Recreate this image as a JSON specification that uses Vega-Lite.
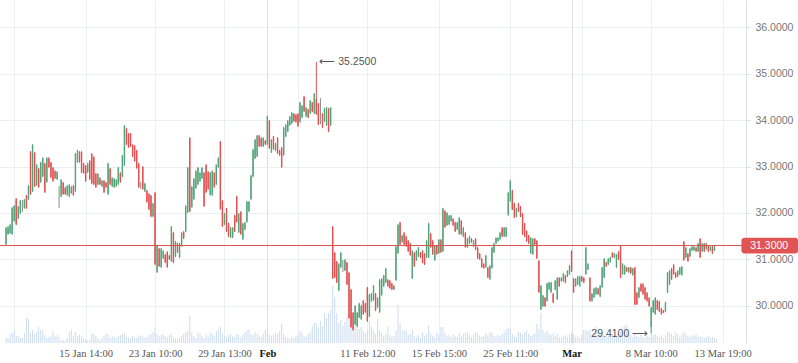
{
"$schema":"https://vega.github.io/schema/vega-lite/v6.json",
"width":746,"height":343,
"autosize":{"type":"none"},
"padding":{"left":0,"top":0,"right":52,"bottom":20},
"background":"white",
"config":{"view":{"stroke":null},"font":"Liberation Sans"},
"datasets":{"candles":[
{"i":0,"o":31.33,"h":31.70,"l":31.31,"c":31.68,"v":50},
{"i":1,"o":31.55,"h":31.72,"l":31.53,"c":31.70,"v":50},
{"i":2,"o":31.57,"h":31.76,"l":31.55,"c":31.74,"v":90},
{"i":3,"o":31.55,"h":32.13,"l":31.53,"c":32.11,"v":100},
{"i":4,"o":31.83,"h":32.17,"l":31.81,"c":32.15,"v":120},
{"i":5,"o":32.30,"h":32.32,"l":31.74,"c":31.76,"v":70},
{"i":6,"o":31.89,"h":32.15,"l":31.87,"c":32.13,"v":70},
{"i":7,"o":32.00,"h":32.28,"l":31.98,"c":32.26,"v":50},
{"i":8,"o":32.15,"h":32.28,"l":32.02,"c":32.15,"v":50},
{"i":9,"o":32.11,"h":32.30,"l":32.09,"c":32.28,"v":100},
{"i":10,"o":32.37,"h":32.39,"l":32.09,"c":32.11,"v":250},
{"i":11,"o":32.30,"h":32.60,"l":32.28,"c":32.58,"v":240},
{"i":12,"o":33.31,"h":33.33,"l":32.39,"c":32.41,"v":100},
{"i":13,"o":32.47,"h":33.48,"l":32.45,"c":33.46,"v":130},
{"i":14,"o":33.29,"h":33.31,"l":32.56,"c":32.58,"v":90},
{"i":15,"o":32.60,"h":33.05,"l":32.58,"c":33.03,"v":110},
{"i":16,"o":32.95,"h":32.97,"l":32.54,"c":32.56,"v":160},
{"i":17,"o":32.67,"h":33.10,"l":32.65,"c":33.08,"v":130},
{"i":18,"o":32.79,"h":33.20,"l":32.77,"c":33.18,"v":130},
{"i":19,"o":33.06,"h":33.08,"l":32.43,"c":32.45,"v":80},
{"i":20,"o":32.67,"h":33.20,"l":32.65,"c":33.18,"v":50},
{"i":21,"o":33.18,"h":33.20,"l":32.97,"c":32.99,"v":60},
{"i":22,"o":33.08,"h":33.10,"l":32.75,"c":32.77,"v":70},
{"i":23,"o":32.97,"h":32.99,"l":32.67,"c":32.69,"v":120},
{"i":24,"o":32.90,"h":32.92,"l":32.73,"c":32.75,"v":70},
{"i":25,"o":32.73,"h":32.90,"l":32.71,"c":32.88,"v":80},
{"i":26,"o":32.35,"h":32.58,"l":32.11,"c":32.35,"v":60},
{"i":27,"o":32.36,"h":32.73,"l":32.34,"c":32.71,"v":30},
{"i":28,"o":32.65,"h":32.67,"l":32.39,"c":32.41,"v":30},
{"i":29,"o":32.54,"h":32.56,"l":32.39,"c":32.41,"v":25},
{"i":30,"o":32.39,"h":32.60,"l":32.37,"c":32.58,"v":50},
{"i":31,"o":32.36,"h":32.62,"l":32.34,"c":32.60,"v":110},
{"i":32,"o":32.43,"h":32.58,"l":32.41,"c":32.56,"v":130},
{"i":33,"o":32.58,"h":32.60,"l":32.37,"c":32.39,"v":70},
{"i":34,"o":32.47,"h":33.29,"l":32.45,"c":33.27,"v":110},
{"i":35,"o":33.10,"h":33.36,"l":33.08,"c":33.34,"v":70},
{"i":36,"o":33.31,"h":33.33,"l":33.08,"c":33.10,"v":80},
{"i":37,"o":33.31,"h":33.33,"l":32.86,"c":32.88,"v":70},
{"i":38,"o":33.06,"h":33.08,"l":32.84,"c":32.86,"v":50},
{"i":39,"o":33.01,"h":33.03,"l":32.67,"c":32.69,"v":30},
{"i":40,"o":32.88,"h":33.08,"l":32.86,"c":33.06,"v":25},
{"i":41,"o":33.12,"h":33.14,"l":32.71,"c":32.73,"v":30},
{"i":42,"o":33.27,"h":33.29,"l":32.62,"c":32.64,"v":90},
{"i":43,"o":33.20,"h":33.22,"l":32.60,"c":32.62,"v":90},
{"i":44,"o":32.84,"h":32.86,"l":32.54,"c":32.56,"v":70},
{"i":45,"o":32.62,"h":32.86,"l":32.60,"c":32.84,"v":50},
{"i":46,"o":32.75,"h":32.77,"l":32.60,"c":32.62,"v":30},
{"i":47,"o":32.58,"h":32.71,"l":32.56,"c":32.69,"v":50},
{"i":48,"o":32.69,"h":32.71,"l":32.43,"c":32.45,"v":70},
{"i":49,"o":32.65,"h":32.67,"l":32.54,"c":32.56,"v":90},
{"i":50,"o":32.41,"h":33.08,"l":32.39,"c":33.06,"v":90},
{"i":51,"o":32.95,"h":32.97,"l":32.60,"c":32.62,"v":50},
{"i":52,"o":32.58,"h":32.77,"l":32.56,"c":32.75,"v":70},
{"i":53,"o":32.56,"h":32.75,"l":32.54,"c":32.73,"v":60},
{"i":54,"o":32.58,"h":32.73,"l":32.56,"c":32.71,"v":50},
{"i":55,"o":32.62,"h":32.99,"l":32.60,"c":32.97,"v":70},
{"i":56,"o":32.86,"h":32.88,"l":32.65,"c":32.67,"v":80},
{"i":57,"o":32.79,"h":33.25,"l":32.77,"c":33.23,"v":90},
{"i":58,"o":33.03,"h":33.89,"l":33.01,"c":33.87,"v":100},
{"i":59,"o":33.81,"h":33.83,"l":33.46,"c":33.48,"v":60},
{"i":60,"o":33.70,"h":33.72,"l":33.40,"c":33.42,"v":50},
{"i":61,"o":33.70,"h":33.72,"l":33.42,"c":33.44,"v":40},
{"i":62,"o":33.46,"h":33.48,"l":33.20,"c":33.22,"v":70},
{"i":63,"o":33.44,"h":33.46,"l":33.10,"c":33.12,"v":60},
{"i":64,"o":33.34,"h":33.36,"l":32.95,"c":32.97,"v":50},
{"i":65,"o":33.06,"h":33.08,"l":32.54,"c":32.56,"v":80},
{"i":66,"o":32.60,"h":32.67,"l":32.52,"c":32.60,"v":70},
{"i":67,"o":32.99,"h":33.01,"l":32.50,"c":32.52,"v":60},
{"i":68,"o":32.47,"h":32.65,"l":32.45,"c":32.63,"v":50},
{"i":69,"o":32.48,"h":32.50,"l":32.22,"c":32.24,"v":60},
{"i":70,"o":32.41,"h":32.43,"l":32.06,"c":32.08,"v":80},
{"i":71,"o":32.37,"h":32.39,"l":31.91,"c":31.93,"v":90},
{"i":72,"o":31.93,"h":32.22,"l":31.91,"c":32.20,"v":110},
{"i":73,"o":32.43,"h":32.45,"l":30.88,"c":30.90,"v":150},
{"i":74,"o":30.73,"h":31.31,"l":30.71,"c":31.29,"v":90},
{"i":75,"o":31.23,"h":31.25,"l":30.84,"c":30.86,"v":70},
{"i":76,"o":30.84,"h":31.25,"l":30.82,"c":31.23,"v":80},
{"i":77,"o":31.03,"h":31.20,"l":31.01,"c":31.18,"v":90},
{"i":78,"o":31.10,"h":31.12,"l":30.92,"c":30.94,"v":70},
{"i":79,"o":31.16,"h":31.18,"l":30.82,"c":30.84,"v":60},
{"i":80,"o":31.08,"h":31.10,"l":30.99,"c":31.01,"v":80},
{"i":81,"o":30.97,"h":31.72,"l":30.95,"c":31.70,"v":90},
{"i":82,"o":31.57,"h":31.59,"l":30.92,"c":30.94,"v":50},
{"i":83,"o":31.07,"h":31.40,"l":31.05,"c":31.38,"v":40},
{"i":84,"o":31.34,"h":31.36,"l":31.14,"c":31.16,"v":30},
{"i":85,"o":31.05,"h":31.36,"l":31.03,"c":31.34,"v":50},
{"i":86,"o":31.29,"h":31.59,"l":31.27,"c":31.57,"v":70},
{"i":87,"o":31.59,"h":31.61,"l":31.44,"c":31.46,"v":90},
{"i":88,"o":31.61,"h":32.17,"l":31.59,"c":32.15,"v":110},
{"i":89,"o":32.02,"h":32.99,"l":32.00,"c":32.97,"v":120},
{"i":90,"o":33.61,"h":33.63,"l":32.02,"c":32.04,"v":270},
{"i":91,"o":32.13,"h":32.58,"l":32.11,"c":32.56,"v":110},
{"i":92,"o":32.30,"h":32.75,"l":32.28,"c":32.73,"v":70},
{"i":93,"o":32.54,"h":32.92,"l":32.52,"c":32.90,"v":50},
{"i":94,"o":32.62,"h":32.99,"l":32.60,"c":32.97,"v":110},
{"i":95,"o":32.69,"h":32.88,"l":32.67,"c":32.86,"v":90},
{"i":96,"o":32.75,"h":32.99,"l":32.73,"c":32.97,"v":70},
{"i":97,"o":32.86,"h":32.88,"l":32.13,"c":32.15,"v":50},
{"i":98,"o":33.03,"h":33.05,"l":32.43,"c":32.45,"v":80},
{"i":99,"o":32.88,"h":32.90,"l":32.50,"c":32.52,"v":60},
{"i":100,"o":32.39,"h":32.88,"l":32.37,"c":32.86,"v":110},
{"i":101,"o":32.39,"h":32.92,"l":32.37,"c":32.90,"v":90},
{"i":102,"o":32.86,"h":32.88,"l":32.54,"c":32.56,"v":70},
{"i":103,"o":32.62,"h":33.05,"l":32.60,"c":33.03,"v":120},
{"i":104,"o":32.99,"h":33.20,"l":32.97,"c":33.18,"v":140},
{"i":105,"o":33.53,"h":33.55,"l":32.07,"c":32.09,"v":160},
{"i":106,"o":32.26,"h":32.28,"l":31.70,"c":31.72,"v":90},
{"i":107,"o":31.76,"h":32.00,"l":31.74,"c":31.98,"v":70},
{"i":108,"o":32.09,"h":32.11,"l":31.59,"c":31.61,"v":60},
{"i":109,"o":31.77,"h":31.79,"l":31.48,"c":31.50,"v":80},
{"i":110,"o":31.48,"h":31.70,"l":31.46,"c":31.68,"v":90},
{"i":111,"o":31.48,"h":31.70,"l":31.46,"c":31.68,"v":70},
{"i":112,"o":31.94,"h":31.96,"l":31.59,"c":31.61,"v":60},
{"i":113,"o":32.35,"h":32.37,"l":31.79,"c":31.81,"v":90},
{"i":114,"o":31.59,"h":32.00,"l":31.57,"c":31.98,"v":80},
{"i":115,"o":32.02,"h":32.04,"l":31.53,"c":31.55,"v":60},
{"i":116,"o":31.44,"h":31.79,"l":31.42,"c":31.77,"v":80},
{"i":117,"o":31.65,"h":31.81,"l":31.63,"c":31.79,"v":110},
{"i":118,"o":31.81,"h":32.26,"l":31.79,"c":32.24,"v":130},
{"i":119,"o":32.04,"h":32.26,"l":32.02,"c":32.24,"v":140},
{"i":120,"o":32.30,"h":32.82,"l":32.28,"c":32.80,"v":90},
{"i":121,"o":32.79,"h":33.38,"l":32.77,"c":33.36,"v":80},
{"i":122,"o":33.18,"h":33.59,"l":33.16,"c":33.57,"v":110},
{"i":123,"o":33.22,"h":33.68,"l":33.20,"c":33.66,"v":90},
{"i":124,"o":33.66,"h":33.68,"l":33.42,"c":33.44,"v":70},
{"i":125,"o":33.61,"h":33.63,"l":33.42,"c":33.44,"v":60},
{"i":126,"o":33.44,"h":33.63,"l":33.42,"c":33.61,"v":90},
{"i":127,"o":33.55,"h":33.57,"l":33.46,"c":33.48,"v":130},
{"i":128,"o":33.48,"h":34.09,"l":33.46,"c":34.07,"v":120},
{"i":129,"o":33.98,"h":34.00,"l":33.38,"c":33.40,"v":80},
{"i":130,"o":33.31,"h":33.59,"l":33.29,"c":33.57,"v":70},
{"i":131,"o":33.64,"h":33.66,"l":33.36,"c":33.38,"v":80},
{"i":132,"o":33.35,"h":33.51,"l":33.33,"c":33.49,"v":100},
{"i":133,"o":33.61,"h":33.63,"l":33.27,"c":33.29,"v":90},
{"i":134,"o":33.34,"h":33.36,"l":33.23,"c":33.25,"v":120},
{"i":135,"o":33.40,"h":33.42,"l":32.97,"c":32.99,"v":190},
{"i":136,"o":33.25,"h":33.85,"l":33.23,"c":33.83,"v":90},
{"i":137,"o":33.65,"h":33.91,"l":33.63,"c":33.89,"v":60},
{"i":138,"o":33.76,"h":34.00,"l":33.74,"c":33.98,"v":50},
{"i":139,"o":33.89,"h":34.09,"l":33.87,"c":34.07,"v":40},
{"i":140,"o":33.93,"h":34.17,"l":33.91,"c":34.15,"v":60},
{"i":141,"o":34.13,"h":34.15,"l":33.96,"c":33.98,"v":50},
{"i":142,"o":34.11,"h":34.13,"l":33.94,"c":33.96,"v":70},
{"i":143,"o":34.13,"h":34.15,"l":33.85,"c":33.87,"v":80},
{"i":144,"o":33.96,"h":34.39,"l":33.94,"c":34.37,"v":120},
{"i":145,"o":34.06,"h":34.32,"l":34.04,"c":34.30,"v":100},
{"i":146,"o":34.50,"h":34.52,"l":34.17,"c":34.19,"v":70},
{"i":147,"o":34.08,"h":34.28,"l":34.06,"c":34.26,"v":60},
{"i":148,"o":34.22,"h":34.24,"l":34.04,"c":34.06,"v":90},
{"i":149,"o":34.15,"h":34.43,"l":34.13,"c":34.41,"v":110},
{"i":150,"o":34.37,"h":34.39,"l":34.17,"c":34.19,"v":170},
{"i":151,"o":34.15,"h":34.58,"l":34.13,"c":34.56,"v":200},
{"i":152,"o":34.45,"h":35.25,"l":34.11,"c":34.13,"v":200},
{"i":153,"o":34.35,"h":34.37,"l":33.89,"c":33.91,"v":150},
{"i":154,"o":34.19,"h":34.47,"l":33.91,"c":34.19,"v":220},
{"i":155,"o":34.13,"h":34.15,"l":33.83,"c":33.85,"v":170},
{"i":156,"o":33.98,"h":34.26,"l":33.96,"c":34.24,"v":300},
{"i":157,"o":33.89,"h":34.28,"l":33.87,"c":34.26,"v":250},
{"i":158,"o":34.24,"h":34.26,"l":33.74,"c":33.76,"v":300},
{"i":159,"o":33.89,"h":34.28,"l":33.87,"c":34.26,"v":330},
{"i":160,"o":31.70,"h":31.72,"l":30.58,"c":30.60,"v":570},
{"i":161,"o":31.14,"h":31.16,"l":30.60,"c":30.62,"v":460},
{"i":162,"o":30.95,"h":30.97,"l":30.49,"c":30.51,"v":300},
{"i":163,"o":30.34,"h":30.92,"l":30.32,"c":30.90,"v":200},
{"i":164,"o":30.84,"h":31.16,"l":30.82,"c":31.14,"v":230},
{"i":165,"o":30.86,"h":30.99,"l":30.73,"c":30.86,"v":170},
{"i":166,"o":30.77,"h":31.01,"l":30.75,"c":30.99,"v":210},
{"i":167,"o":30.93,"h":30.95,"l":30.45,"c":30.47,"v":250},
{"i":168,"o":30.71,"h":30.73,"l":29.72,"c":29.74,"v":230},
{"i":169,"o":30.35,"h":30.37,"l":29.53,"c":29.55,"v":300},
{"i":170,"o":29.85,"h":29.87,"l":29.47,"c":29.49,"v":210},
{"i":171,"o":29.61,"h":30.02,"l":29.59,"c":30.00,"v":180},
{"i":172,"o":29.57,"h":29.87,"l":29.55,"c":29.85,"v":200},
{"i":173,"o":29.76,"h":30.07,"l":29.74,"c":30.05,"v":140},
{"i":174,"o":29.72,"h":30.02,"l":29.70,"c":30.00,"v":160},
{"i":175,"o":30.11,"h":30.13,"l":29.81,"c":29.83,"v":120},
{"i":176,"o":30.05,"h":30.07,"l":29.85,"c":29.87,"v":100},
{"i":177,"o":30.39,"h":30.41,"l":29.66,"c":29.68,"v":130},
{"i":178,"o":29.78,"h":30.26,"l":29.76,"c":30.24,"v":220},
{"i":179,"o":30.11,"h":30.28,"l":30.09,"c":30.26,"v":160},
{"i":180,"o":30.13,"h":30.45,"l":30.11,"c":30.43,"v":120},
{"i":181,"o":30.26,"h":30.28,"l":29.89,"c":29.91,"v":90},
{"i":182,"o":29.98,"h":30.19,"l":29.96,"c":30.17,"v":240},
{"i":183,"o":29.87,"h":30.58,"l":29.85,"c":30.56,"v":130},
{"i":184,"o":30.24,"h":30.60,"l":30.22,"c":30.58,"v":100},
{"i":185,"o":30.43,"h":30.67,"l":30.41,"c":30.65,"v":70},
{"i":186,"o":30.51,"h":30.82,"l":30.49,"c":30.80,"v":90},
{"i":187,"o":30.56,"h":30.58,"l":30.41,"c":30.43,"v":160},
{"i":188,"o":30.54,"h":30.56,"l":30.37,"c":30.39,"v":80},
{"i":189,"o":30.48,"h":30.50,"l":30.34,"c":30.36,"v":60},
{"i":190,"o":30.36,"h":30.45,"l":30.34,"c":30.43,"v":70},
{"i":191,"o":30.56,"h":31.29,"l":30.54,"c":31.27,"v":120},
{"i":192,"o":31.14,"h":31.76,"l":31.12,"c":31.74,"v":380},
{"i":193,"o":31.79,"h":31.81,"l":31.31,"c":31.33,"v":200},
{"i":194,"o":31.38,"h":31.53,"l":31.36,"c":31.51,"v":130},
{"i":195,"o":31.57,"h":31.59,"l":31.31,"c":31.33,"v":120},
{"i":196,"o":31.49,"h":31.51,"l":31.27,"c":31.29,"v":130},
{"i":197,"o":31.40,"h":31.42,"l":31.16,"c":31.18,"v":80},
{"i":198,"o":31.34,"h":31.36,"l":31.08,"c":31.10,"v":90},
{"i":199,"o":30.60,"h":31.20,"l":30.58,"c":31.18,"v":130},
{"i":200,"o":31.14,"h":31.16,"l":30.84,"c":30.86,"v":70},
{"i":201,"o":30.99,"h":31.20,"l":30.97,"c":31.18,"v":60},
{"i":202,"o":31.07,"h":31.27,"l":31.05,"c":31.25,"v":80},
{"i":203,"o":31.14,"h":31.16,"l":31.03,"c":31.05,"v":50},
{"i":204,"o":31.18,"h":31.20,"l":30.92,"c":30.94,"v":110},
{"i":205,"o":31.12,"h":31.14,"l":30.88,"c":30.90,"v":70},
{"i":206,"o":31.05,"h":31.42,"l":31.03,"c":31.40,"v":90},
{"i":207,"o":31.05,"h":31.79,"l":31.03,"c":31.77,"v":170},
{"i":208,"o":31.55,"h":31.57,"l":31.25,"c":31.27,"v":100},
{"i":209,"o":31.40,"h":31.42,"l":31.10,"c":31.12,"v":70},
{"i":210,"o":30.99,"h":31.31,"l":30.97,"c":31.29,"v":60},
{"i":211,"o":31.29,"h":31.31,"l":31.10,"c":31.12,"v":110},
{"i":212,"o":31.14,"h":31.44,"l":31.12,"c":31.42,"v":80},
{"i":213,"o":31.42,"h":31.44,"l":31.14,"c":31.16,"v":160},
{"i":214,"o":31.18,"h":32.11,"l":31.16,"c":32.09,"v":160},
{"i":215,"o":32.04,"h":32.06,"l":31.68,"c":31.70,"v":100},
{"i":216,"o":31.74,"h":32.02,"l":31.72,"c":32.00,"v":70},
{"i":217,"o":31.76,"h":31.96,"l":31.74,"c":31.94,"v":80},
{"i":218,"o":31.83,"h":31.96,"l":31.81,"c":31.94,"v":60},
{"i":219,"o":31.87,"h":31.89,"l":31.72,"c":31.74,"v":90},
{"i":220,"o":31.79,"h":31.81,"l":31.59,"c":31.61,"v":70},
{"i":221,"o":31.65,"h":31.81,"l":31.63,"c":31.79,"v":60},
{"i":222,"o":31.55,"h":31.91,"l":31.53,"c":31.89,"v":100},
{"i":223,"o":31.83,"h":31.85,"l":31.53,"c":31.55,"v":70},
{"i":224,"o":31.50,"h":31.70,"l":31.48,"c":31.68,"v":90},
{"i":225,"o":31.57,"h":31.59,"l":31.25,"c":31.27,"v":100},
{"i":226,"o":31.27,"h":31.46,"l":31.25,"c":31.44,"v":110},
{"i":227,"o":31.35,"h":31.51,"l":31.33,"c":31.49,"v":80},
{"i":228,"o":31.44,"h":31.46,"l":31.36,"c":31.38,"v":60},
{"i":229,"o":31.29,"h":31.42,"l":31.27,"c":31.40,"v":90},
{"i":230,"o":31.44,"h":31.46,"l":31.20,"c":31.22,"v":110},
{"i":231,"o":31.25,"h":31.27,"l":31.01,"c":31.03,"v":100},
{"i":232,"o":31.12,"h":31.14,"l":30.99,"c":31.01,"v":70},
{"i":233,"o":31.01,"h":31.03,"l":30.82,"c":30.84,"v":60},
{"i":234,"o":30.90,"h":30.92,"l":30.80,"c":30.82,"v":70},
{"i":235,"o":30.84,"h":31.10,"l":30.82,"c":31.08,"v":100},
{"i":236,"o":30.82,"h":30.84,"l":30.60,"c":30.62,"v":80},
{"i":237,"o":30.58,"h":30.88,"l":30.56,"c":30.86,"v":110},
{"i":238,"o":30.82,"h":31.27,"l":30.80,"c":31.25,"v":100},
{"i":239,"o":31.16,"h":31.36,"l":31.14,"c":31.34,"v":70},
{"i":240,"o":31.35,"h":31.48,"l":31.33,"c":31.46,"v":60},
{"i":241,"o":31.40,"h":31.48,"l":31.38,"c":31.46,"v":80},
{"i":242,"o":31.44,"h":31.59,"l":31.42,"c":31.57,"v":70},
{"i":243,"o":31.68,"h":31.70,"l":31.48,"c":31.50,"v":90},
{"i":244,"o":31.50,"h":31.70,"l":31.48,"c":31.68,"v":110},
{"i":245,"o":31.50,"h":31.70,"l":31.48,"c":31.68,"v":140},
{"i":246,"o":31.96,"h":32.45,"l":31.94,"c":32.43,"v":150},
{"i":247,"o":32.26,"h":32.71,"l":32.24,"c":32.69,"v":140},
{"i":248,"o":32.48,"h":32.50,"l":32.06,"c":32.08,"v":90},
{"i":249,"o":32.20,"h":32.22,"l":31.89,"c":31.91,"v":70},
{"i":250,"o":31.93,"h":32.11,"l":31.91,"c":32.09,"v":60},
{"i":251,"o":32.20,"h":32.22,"l":32.02,"c":32.04,"v":110},
{"i":252,"o":32.13,"h":32.15,"l":31.91,"c":31.93,"v":100},
{"i":253,"o":31.98,"h":32.00,"l":31.53,"c":31.55,"v":80},
{"i":254,"o":31.77,"h":31.79,"l":31.48,"c":31.50,"v":110},
{"i":255,"o":31.61,"h":31.63,"l":31.38,"c":31.40,"v":120},
{"i":256,"o":31.51,"h":31.53,"l":31.33,"c":31.35,"v":90},
{"i":257,"o":31.14,"h":31.48,"l":31.12,"c":31.46,"v":70},
{"i":258,"o":31.12,"h":31.46,"l":31.10,"c":31.44,"v":80},
{"i":259,"o":31.44,"h":31.46,"l":31.31,"c":31.33,"v":100},
{"i":260,"o":31.40,"h":31.42,"l":31.01,"c":31.03,"v":190},
{"i":261,"o":30.97,"h":30.99,"l":30.28,"c":30.30,"v":140},
{"i":262,"o":29.93,"h":30.45,"l":29.91,"c":30.43,"v":300},
{"i":263,"o":30.00,"h":30.24,"l":29.98,"c":30.22,"v":130},
{"i":264,"o":30.17,"h":30.19,"l":29.98,"c":30.00,"v":100},
{"i":265,"o":30.11,"h":30.50,"l":30.09,"c":30.48,"v":120},
{"i":266,"o":30.36,"h":30.52,"l":30.34,"c":30.50,"v":90},
{"i":267,"o":30.30,"h":30.52,"l":30.28,"c":30.50,"v":80},
{"i":268,"o":30.26,"h":30.28,"l":30.06,"c":30.08,"v":100},
{"i":269,"o":30.36,"h":30.56,"l":30.34,"c":30.54,"v":70},
{"i":270,"o":30.15,"h":30.62,"l":30.13,"c":30.60,"v":90},
{"i":271,"o":30.60,"h":30.62,"l":30.41,"c":30.43,"v":60},
{"i":272,"o":30.54,"h":30.62,"l":30.52,"c":30.60,"v":50},
{"i":273,"o":30.54,"h":30.71,"l":30.52,"c":30.69,"v":70},
{"i":274,"o":30.65,"h":30.67,"l":30.49,"c":30.51,"v":80},
{"i":275,"o":30.64,"h":30.77,"l":30.62,"c":30.75,"v":60},
{"i":276,"o":30.69,"h":30.88,"l":30.67,"c":30.86,"v":90},
{"i":277,"o":31.18,"h":31.20,"l":30.73,"c":30.75,"v":100},
{"i":278,"o":30.58,"h":30.60,"l":30.28,"c":30.30,"v":90},
{"i":279,"o":30.43,"h":30.60,"l":30.41,"c":30.58,"v":60},
{"i":280,"o":30.47,"h":30.65,"l":30.45,"c":30.63,"v":70},
{"i":281,"o":30.43,"h":30.65,"l":30.41,"c":30.63,"v":50},
{"i":282,"o":30.63,"h":30.65,"l":30.52,"c":30.54,"v":80},
{"i":283,"o":30.60,"h":30.62,"l":30.49,"c":30.51,"v":130},
{"i":284,"o":30.69,"h":31.27,"l":30.67,"c":31.25,"v":130},
{"i":285,"o":30.79,"h":30.92,"l":30.77,"c":30.90,"v":120},
{"i":286,"o":30.60,"h":30.62,"l":30.09,"c":30.11,"v":130},
{"i":287,"o":30.11,"h":30.28,"l":30.09,"c":30.26,"v":90},
{"i":288,"o":30.19,"h":30.39,"l":30.17,"c":30.37,"v":100},
{"i":289,"o":30.26,"h":30.41,"l":30.24,"c":30.39,"v":160},
{"i":290,"o":30.37,"h":30.39,"l":30.24,"c":30.26,"v":140},
{"i":291,"o":30.21,"h":30.45,"l":30.19,"c":30.43,"v":90},
{"i":292,"o":30.41,"h":30.84,"l":30.39,"c":30.82,"v":70},
{"i":293,"o":30.62,"h":31.03,"l":30.60,"c":31.01,"v":60},
{"i":294,"o":30.93,"h":30.95,"l":30.84,"c":30.86,"v":80},
{"i":295,"o":30.90,"h":31.03,"l":30.88,"c":31.01,"v":70},
{"i":296,"o":30.95,"h":31.06,"l":30.93,"c":31.04,"v":60},
{"i":297,"o":31.14,"h":31.16,"l":31.03,"c":31.05,"v":90},
{"i":298,"o":31.05,"h":31.14,"l":31.03,"c":31.12,"v":80},
{"i":299,"o":30.84,"h":31.12,"l":30.82,"c":31.10,"v":70},
{"i":300,"o":31.16,"h":31.18,"l":30.99,"c":31.01,"v":100},
{"i":301,"o":31.29,"h":31.31,"l":30.60,"c":30.62,"v":110},
{"i":302,"o":30.69,"h":30.92,"l":30.67,"c":30.90,"v":160},
{"i":303,"o":30.69,"h":30.88,"l":30.67,"c":30.86,"v":170},
{"i":304,"o":30.82,"h":30.84,"l":30.73,"c":30.75,"v":180},
{"i":305,"o":30.73,"h":30.84,"l":30.71,"c":30.82,"v":100},
{"i":306,"o":30.82,"h":30.84,"l":30.69,"c":30.71,"v":80},
{"i":307,"o":30.67,"h":30.82,"l":30.65,"c":30.80,"v":60},
{"i":308,"o":30.82,"h":30.84,"l":30.02,"c":30.04,"v":90},
{"i":309,"o":30.28,"h":30.30,"l":30.02,"c":30.04,"v":70},
{"i":310,"o":30.19,"h":30.41,"l":30.17,"c":30.39,"v":60},
{"i":311,"o":30.47,"h":30.49,"l":30.30,"c":30.32,"v":80},
{"i":312,"o":30.47,"h":30.49,"l":30.24,"c":30.26,"v":60},
{"i":313,"o":30.39,"h":30.41,"l":30.13,"c":30.15,"v":50},
{"i":314,"o":30.28,"h":30.30,"l":30.09,"c":30.11,"v":70},
{"i":315,"o":30.17,"h":30.19,"l":29.98,"c":30.00,"v":60},
{"i":316,"o":29.55,"h":29.98,"l":29.41,"c":29.96,"v":110},
{"i":317,"o":29.87,"h":30.13,"l":29.85,"c":30.11,"v":80},
{"i":318,"o":29.83,"h":30.19,"l":29.81,"c":30.17,"v":90},
{"i":319,"o":30.11,"h":30.13,"l":29.91,"c":29.93,"v":70},
{"i":320,"o":30.09,"h":30.11,"l":29.87,"c":29.89,"v":60},
{"i":321,"o":29.94,"h":29.96,"l":29.81,"c":29.83,"v":80},
{"i":322,"o":29.91,"h":29.91,"l":29.85,"c":29.85,"v":50},
{"i":323,"o":29.89,"h":30.09,"l":29.87,"c":30.07,"v":70},
{"i":324,"o":30.30,"h":30.73,"l":30.28,"c":30.71,"v":110},
{"i":325,"o":30.47,"h":30.77,"l":30.45,"c":30.75,"v":100},
{"i":326,"o":30.80,"h":30.82,"l":30.56,"c":30.58,"v":90},
{"i":327,"o":30.88,"h":30.90,"l":30.67,"c":30.69,"v":70},
{"i":328,"o":30.71,"h":30.73,"l":30.60,"c":30.62,"v":110},
{"i":329,"o":30.64,"h":30.77,"l":30.62,"c":30.75,"v":90},
{"i":330,"o":30.69,"h":30.84,"l":30.67,"c":30.82,"v":60},
{"i":331,"o":30.67,"h":30.86,"l":30.65,"c":30.84,"v":80},
{"i":332,"o":31.38,"h":31.40,"l":30.97,"c":30.99,"v":110},
{"i":333,"o":31.05,"h":31.27,"l":31.03,"c":31.25,"v":90},
{"i":334,"o":31.12,"h":31.14,"l":30.95,"c":30.97,"v":70},
{"i":335,"o":31.07,"h":31.25,"l":31.05,"c":31.23,"v":60},
{"i":336,"o":31.20,"h":31.29,"l":31.18,"c":31.27,"v":80},
{"i":337,"o":31.20,"h":31.29,"l":31.18,"c":31.27,"v":70},
{"i":338,"o":31.25,"h":31.27,"l":31.16,"c":31.18,"v":90},
{"i":339,"o":31.18,"h":31.36,"l":31.16,"c":31.34,"v":60},
{"i":340,"o":31.44,"h":31.46,"l":31.03,"c":31.05,"v":70},
{"i":341,"o":31.18,"h":31.36,"l":31.16,"c":31.34,"v":60},
{"i":342,"o":31.34,"h":31.36,"l":31.16,"c":31.18,"v":50},
{"i":343,"o":31.23,"h":31.36,"l":31.21,"c":31.34,"v":60},
{"i":344,"o":31.29,"h":31.31,"l":31.16,"c":31.18,"v":70},
{"i":345,"o":31.20,"h":31.29,"l":31.18,"c":31.27,"v":50},
{"i":346,"o":31.27,"h":31.29,"l":31.12,"c":31.14,"v":60},
{"i":347,"o":31.20,"h":31.29,"l":31.18,"c":31.27,"v":50},
{"i":348,"o":31.31,"h":31.31,"l":31.29,"c":31.30,"v":40}
]},
"resolve":{"scale":{"y":"independent"}},
"layer":[
{"data":{"name":"candles"},
 "mark":{"type":"bar","width":1,"color":"#cddcef"},
 "encoding":{
  "x":{"field":"i","type":"quantitative","title":null,
   "scale":{"domain":[-0.5,360],"nice":false,"zero":false},
   "axis":{"orient":"bottom","domain":false,"ticks":false,"grid":true,
    "values":[4,39,73,107,128,143,177,212,247,277,282,316,351],
    "labelExpr":"datum.value==39?'15 Jan 14:00':datum.value==73?'23 Jan 10:00':datum.value==107?'29 Jan 13:00':datum.value==128?'Feb':datum.value==177?'11 Feb 12:00':datum.value==212?'15 Feb 15:00':datum.value==247?'25 Feb 11:00':datum.value==277?'Mar':datum.value==316?'8 Mar 10:00':datum.value==351?'13 Mar 19:00':''",
    "labelOverlap":false,"labelFlush":false,"labelBound":false,
    "labelFont":"Liberation Serif","labelFontSize":10.5,"labelPadding":5,
    "labelColor":{"condition":{"test":"datum.value==128||datum.value==277","value":"#111111"},"value":"#555555"},
    "labelFontWeight":{"condition":{"test":"datum.value==128||datum.value==277","value":"bold"},"value":"normal"},
    "gridColor":{"condition":{"test":"datum.value==128||datum.value==277","value":"#dadfe5"},"value":"#eceff2"}}},
  "y":{"field":"v","type":"quantitative","scale":{"domain":[0,3430]},"axis":null}}},
{"layer":[
 {"data":{"name":"candles"},
  "mark":{"type":"rule","strokeWidth":1},
  "encoding":{
   "x":{"field":"i","type":"quantitative","title":null},
   "y":{"field":"l","type":"quantitative","title":null,
    "scale":{"domain":[29.204,36.581],"nice":false,"zero":false},
    "axis":{"orient":"right","values":[30,31,32,33,34,35,36],"format":".4f","grid":true,
     "gridColor":"#eceff2","domainColor":"#dde1e6","tickColor":"#dde1e6","tickSize":4,
     "labelPadding":5,"labelColor":"#777777","labelFont":"Liberation Sans","labelFontSize":10.5}},
   "y2":{"field":"h"},
   "color":{"condition":[{"test":"datum.c>datum.o","value":"#53a47a"},{"test":"datum.c<datum.o","value":"#e05252"}],"value":"#8a8a8a"}}},
 {"data":{"name":"candles"},
  "mark":{"type":"bar","width":1.4},
  "encoding":{
   "x":{"field":"i","type":"quantitative","title":null},
   "y":{"field":"o","type":"quantitative","title":null},
   "y2":{"field":"c"},
   "color":{"condition":[{"test":"datum.c>datum.o","value":"#53a47a"},{"test":"datum.c<datum.o","value":"#e05252"}],"value":"#8a8a8a"}}},
 {"data":{"values":[{"p":31.3,"label":"31.3000"}]},
  "mark":{"type":"rule","color":"#d9534f","strokeWidth":1},
  "encoding":{"y":{"field":"p","type":"quantitative","title":null}}},
 {"data":{"values":[{"p":31.3,"label":"31.3000"}]},
  "mark":{"type":"rect","color":"#e05553","cornerRadius":3},
  "encoding":{
   "x":{"datum":360.2,"type":"quantitative"},"x2":{"datum":388},
   "y":{"datum":31.469,"type":"quantitative"},"y2":{"datum":31.131}}},
 {"data":{"values":[{"p":31.3,"label":"31.3000"}]},
  "mark":{"type":"text","color":"white","font":"Liberation Sans","fontSize":10.5,"align":"center","baseline":"middle"},
  "encoding":{
   "x":{"datum":373.8,"type":"quantitative"},
   "y":{"field":"p","type":"quantitative","title":null},
   "text":{"field":"label"}}},
 {"data":{"values":[{"i":152,"p":35.25,"t":"⟵ 35.2500"}]},
  "mark":{"type":"text","color":"#555555","font":"Liberation Sans","fontSize":10.5,"align":"left","baseline":"middle","dx":3},
  "encoding":{
   "x":{"field":"i","type":"quantitative","title":null},
   "y":{"field":"p","type":"quantitative","title":null},
   "text":{"field":"t"}}},
 {"data":{"values":[{"i":316,"p":29.41,"t":"29.4100 ⟶"}]},
  "mark":{"type":"text","color":"#555555","font":"Liberation Sans","fontSize":10.5,"align":"right","baseline":"middle","dx":-3,"dy":1},
  "encoding":{
   "x":{"field":"i","type":"quantitative","title":null},
   "y":{"field":"p","type":"quantitative","title":null},
   "text":{"field":"t"}}}
]}
]
}
